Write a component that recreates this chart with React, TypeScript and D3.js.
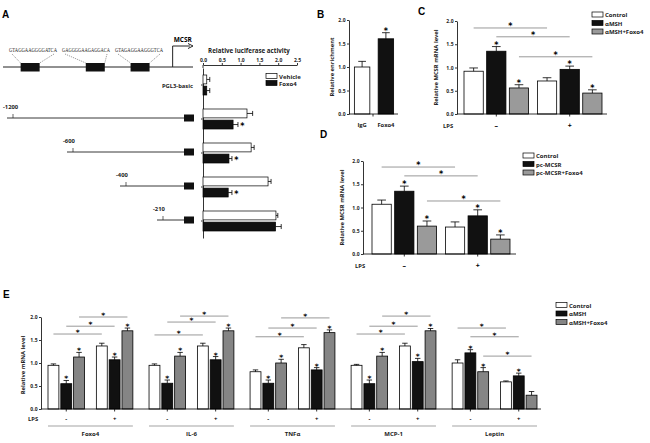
import { useRef, useEffect } from "react";
import * as d3 from "d3";

const W = 650;
const H = 443;
const SANS = "'Open Sans', 'DejaVu Sans', sans-serif";
const SERIF = "'Liberation Serif', serif";

// ---- panel A: luciferase reporter
const constructs = ["PGL3-basic", "-1200", "-600", "-400", "-210"];
const constructStart = [NaN, -1200, -600, -400, -210];
const vehicleVals = [0.1, 1.17, 1.28, 1.73, 1.94];
const vehicleErr = [0.08, 0.15, 0.08, 0.08, 0.05];
const foxoVals = [0.1, 0.8, 0.69, 0.67, 1.93];
const foxoErr = [0.08, 0.13, 0.08, 0.1, 0.15];
const foxoStar = [false, true, true, true, false];
const siteSeqs = ["GTAGGAAGGGGATCA", "GAGGGGAAGAGGACA", "GTAGAGGAAGGGTCA"];
const sitePos = [-1050, -570, -240];
const lucTicks = [0, 0.5, 1, 1.5, 2, 2.5];

// ---- panel B: ChIP
const chipGroups = ["IgG", "Foxo4"];
const chipVals = [1.0, 1.6];
const chipErr = [0.12, 0.13];
const chipStar = [false, true];

// ---- shared
const yTicks = [0, 0.5, 1, 1.5, 2];
const lps = ["-", "+"];

// ---- panel C
const cSeries = ["Control", "αMSH", "αMSH+Foxo4"];
const cVals = [[0.92, 1.35, 0.56], [0.71, 0.96, 0.45]];
const cErr = [[0.07, 0.1, 0.07], [0.07, 0.07, 0.07]];
const cStar = [[false, true, true], [false, true, true]];
const cSig = [1.85, 1.66, 1.23];

// ---- panel D
const dSeries = ["Control", "pc-MCSR", "pc-MCSR+Foxo4"];
const dVals = [[1.07, 1.35, 0.6], [0.58, 0.82, 0.32]];
const dErr = [[0.09, 0.11, 0.11], [0.11, 0.13, 0.09]];
const dStar = [[false, true, true], [false, true, true]];
const dSig = [1.87, 1.68, 1.14];

// ---- panel E  (order: Control-, aMSH-, aMSH+Foxo4-, Control+, aMSH+, aMSH+Foxo4+)
const eGroups = ["Foxo4", "IL-6", "TNFα", "MCP-1", "Leptin"];
const eSeries = ["Control", "αMSH", "αMSH+Foxo4"];
const eVals = [
  [0.95, 0.55, 1.13, 1.37, 1.07, 1.7],
  [0.95, 0.56, 1.15, 1.37, 1.07, 1.7],
  [0.81, 0.56, 1.0, 1.33, 0.85, 1.66],
  [0.95, 0.55, 1.15, 1.37, 1.03, 1.7],
  [1.0, 1.22, 0.81, 0.59, 0.72, 0.3],
];
const eErr = [
  [0.03, 0.07, 0.1, 0.06, 0.06, 0.06],
  [0.03, 0.07, 0.08, 0.06, 0.07, 0.06],
  [0.04, 0.07, 0.08, 0.07, 0.05, 0.06],
  [0.02, 0.08, 0.08, 0.06, 0.07, 0.05],
  [0.07, 0.07, 0.09, 0.02, 0.06, 0.08],
];
const eStar = [
  [false, true, true, false, true, true],
  [false, true, true, false, true, true],
  [false, true, true, false, true, true],
  [false, true, true, false, true, true],
  [false, true, true, false, true, false],
];
const eSig = [
  [1.63, 1.8, 2.0],
  [1.61, 1.89, 2.02],
  [1.57, 1.76, 1.98],
  [1.63, 1.8, 2.02],
  [1.76, 1.57, 1.15],
];

type G = d3.Selection<SVGGElement, unknown, null, undefined>;

function styleAxis(g: G) {
  g.attr("font-family", SANS).attr("font-size", 5).attr("font-weight", 700);
  g.selectAll("path.domain").attr("stroke", "#000").attr("stroke-width", 0.8);
  g.selectAll(".tick line").attr("stroke", "#000").attr("stroke-width", 0.8);
  g.selectAll(".tick text").attr("fill", "#222");
}

function letter(root: G, t: string, x: number, y: number) {
  root.append("text").attr("x", x).attr("y", y).text(t)
    .attr("font-family", "'Liberation Sans', Arial, sans-serif")
    .attr("font-weight", 700).attr("font-size", 10);
}

function yTitle(root: G, t: string, x: number, y: number) {
  root.append("text").attr("transform", `translate(${x},${y}) rotate(-90)`)
    .attr("text-anchor", "middle").attr("font-family", SANS)
    .attr("font-size", 5.8).attr("font-weight", 700).attr("fill", "#222").text(t);
}

// asterisk: y is the level just below the glyph
function star(root: G, x: number, y: number, size = 8) {
  root.append("text").attr("x", x).attr("y", y + size * 0.33).attr("text-anchor", "middle")
    .attr("font-family", "'DejaVu Sans', sans-serif").attr("font-weight", 700).attr("font-size", size).text("*");
}

function errBar(root: G, cx: number, y0: number, y1: number, w: number) {
  root.append("line").attr("x1", cx).attr("x2", cx).attr("y1", y0).attr("y2", y1)
    .attr("stroke", "#000").attr("stroke-width", 0.8);
  root.append("line").attr("x1", cx - w / 2).attr("x2", cx + w / 2).attr("y1", y1).attr("y2", y1)
    .attr("stroke", "#000").attr("stroke-width", 0.8);
}

function legend(root: G, labels: string[], fills: string[], x: number, y: number, dy: number) {
  labels.forEach((l, i) => {
    root.append("rect").attr("x", x).attr("y", y + i * dy).attr("width", 11).attr("height", 5)
      .attr("fill", fills[i]).attr("stroke", "#000").attr("stroke-width", 0.7);
    root.append("text").attr("x", x + 13).attr("y", y + i * dy + 5).text(l)
      .attr("font-family", SANS).attr("font-size", 6).attr("font-weight", 700).attr("fill", "#222");
  });
}

function drawA(root: G) {
  letter(root, "A", 2, 18);

  // promoter map
  const mapX = d3.scaleLinear().domain([-1250, 150]).range([3, 193]);
  const textX = d3.scalePoint<number>().domain(d3.range(siteSeqs.length)).range([33, 139]);
  root.append("line").attr("x1", mapX(-1250)).attr("x2", mapX(150)).attr("y1", 67).attr("y2", 67)
    .attr("stroke", "#222").attr("stroke-width", 1);
  siteSeqs.forEach((s, i) => {
    const bx = mapX(sitePos[i]) - 9.5;
    const tx = textX(i)!;
    root.append("rect").attr("x", bx).attr("y", 63).attr("width", 19).attr("height", 8.5).attr("fill", "#111");
    root.append("text").attr("x", tx - 24).attr("y", 52)
      .attr("textLength", 48).attr("lengthAdjust", "spacingAndGlyphs")
      .attr("font-family", SERIF).attr("font-size", 5.4).attr("fill", "#222").text(s);
    [[tx - 21, bx], [tx + 21, bx + 19]].forEach(([a, b]) => {
      root.append("line").attr("x1", a).attr("y1", 54).attr("x2", b).attr("y2", 63)
        .attr("stroke", "#555").attr("stroke-width", 0.6).attr("stroke-dasharray", "1.2,1");
    });
  });
  const tss = mapX(0);
  root.append("path").attr("d", `M${tss},67V46H190`).attr("fill", "none").attr("stroke", "#222").attr("stroke-width", 1);
  root.append("path").attr("d", `M188,43.5L193,46L188,48.5`).attr("fill", "none").attr("stroke", "#222").attr("stroke-width", 1);
  root.append("text").attr("x", tss + 1).attr("y", 42).text("MCSR")
    .attr("font-family", SANS).attr("font-size", 6.5).attr("font-weight", 700);

  // bar chart
  const x = d3.scaleLinear().domain([0, 2.5]).range([203, 297]);
  const rows = d3.scaleBand().domain(constructs).range([68, 238]);
  const inner = d3.scaleBand().domain(["Vehicle", "Foxo4"]).range([7, 27]).paddingInner(0.2);

  root.append("text").attr("x", 249).attr("y", 53).attr("text-anchor", "middle")
    .attr("font-family", SANS).attr("font-size", 6.2).attr("font-weight", 700).attr("fill", "#222")
    .text("Relative luciferase activity");
  const ax = root.append("g").attr("transform", "translate(0,65)")
    .call(d3.axisTop(x).tickValues(lucTicks).tickFormat(d3.format(".1f")).tickSize(2).tickSizeOuter(0).tickPadding(1.5));
  styleAxis(ax);
  const ay = root.append("g").attr("transform", "translate(203,0)")
    .call(d3.axisLeft(rows).tickFormat(() => "").tickSize(2).tickSizeOuter(0));
  styleAxis(ay);
  root.append("line").attr("x1", 203).attr("x2", 203).attr("y1", 65).attr("y2", 68).attr("stroke", "#000").attr("stroke-width", 0.8);

  const promX = d3.scaleLinear().domain([-1200, -600, -400, -210, 0]).range([7, 67, 120, 157, 184]);

  constructs.forEach((c, i) => {
    const y0 = rows(c)!;
    const bw = inner.bandwidth();
    const series = [
      { k: "Vehicle", v: vehicleVals[i], e: vehicleErr[i], fill: "#fff", s: false },
      { k: "Foxo4", v: foxoVals[i], e: foxoErr[i], fill: "#111", s: foxoStar[i] },
    ];
    series.forEach((d) => {
      const yy = y0 + inner(d.k)!;
      root.append("rect").attr("x", x(0)).attr("y", yy).attr("width", x(d.v) - x(0)).attr("height", bw)
        .attr("fill", d.fill).attr("stroke", "#000").attr("stroke-width", 0.7);
      const cy = yy + bw / 2;
      root.append("line").attr("x1", x(d.v)).attr("x2", x(d.v + d.e)).attr("y1", cy).attr("y2", cy)
        .attr("stroke", "#000").attr("stroke-width", 0.8);
      root.append("line").attr("x1", x(d.v + d.e)).attr("x2", x(d.v + d.e)).attr("y1", cy - 2.5).attr("y2", cy + 2.5)
        .attr("stroke", "#000").attr("stroke-width", 0.8);
      if (d.s) star(root, x(d.v + d.e) + 4.5, cy + 2.2, 8);
    });

    const cy = y0 + rows.bandwidth() / 2;
    if (isNaN(constructStart[i])) {
      root.append("text").attr("x", 193).attr("y", cy + 3).attr("text-anchor", "end")
        .attr("font-family", SANS).attr("font-size", 5.8).attr("font-weight", 700).attr("fill", "#222").text(c);
    } else {
      const ly = cy - 1;
      const sx = promX(constructStart[i]);
      root.append("line").attr("x1", sx).attr("x2", promX(0)).attr("y1", ly).attr("y2", ly)
        .attr("stroke", "#222").attr("stroke-width", 0.9);
      root.append("line").attr("x1", sx + 6).attr("x2", sx + 6).attr("y1", ly - 4).attr("y2", ly)
        .attr("stroke", "#222").attr("stroke-width", 0.7);
      root.append("rect").attr("x", promX(0)).attr("y", ly - 3.5).attr("width", 10).attr("height", 7).attr("fill", "#111");
      root.append("text").attr("x", sx - 4).attr("y", ly - 9.5).text(c)
        .attr("font-family", SANS).attr("font-size", 5.8).attr("font-weight", 700).attr("fill", "#222");
    }
  });

  legend(root, ["Vehicle"], ["#fff"], 266, 73.5, 0);
  legend(root, ["Foxo4"], ["#111"], 266, 80.5, 0);
}

function drawB(root: G) {
  letter(root, "B", 317, 18);
  const x = d3.scaleBand().domain(chipGroups).range([352, 396]).paddingInner(0.35).paddingOuter(0.1);
  const y = d3.scaleLinear().domain([0, 2]).range([114, 20]);
  const fills = ["#fff", "#111"];
  chipGroups.forEach((g, i) => {
    const bx = x(g)!;
    const bw = x.bandwidth();
    root.append("rect").attr("x", bx).attr("y", y(chipVals[i])).attr("width", bw)
      .attr("height", y(0) - y(chipVals[i])).attr("fill", fills[i]).attr("stroke", "#000").attr("stroke-width", 0.8);
    errBar(root, bx + bw / 2, y(chipVals[i]), y(chipVals[i] + chipErr[i]), bw * 0.5);
    if (chipStar[i]) star(root, bx + bw / 2, y(chipVals[i] + chipErr[i]) - 1.5);
    root.append("text").attr("x", bx + bw / 2).attr("y", 127).attr("text-anchor", "middle")
      .attr("font-family", SANS).attr("font-size", 5.8).attr("font-weight", 700).attr("fill", "#222").text(g);
  });
  const ay = root.append("g").attr("transform", "translate(349,0)")
    .call(d3.axisLeft(y).tickValues(yTicks).tickFormat(d3.format(".1f")).tickSize(2).tickSizeOuter(0).tickPadding(1.5));
  styleAxis(ay);
  root.append("line").attr("x1", 349).attr("x2", 398).attr("y1", y(0)).attr("y2", y(0)).attr("stroke", "#000").attr("stroke-width", 0.8);
  root.append("line").attr("x1", 373).attr("x2", 373).attr("y1", y(0)).attr("y2", y(0) + 2.5).attr("stroke", "#000").attr("stroke-width", 0.8);
  yTitle(root, "Relative enrichment", 334, 67);
}

type GroupCfg = {
  axisX: number; axisEnd: number; top: number; bottom: number; range: [number, number];
  series: string[]; fills: string[]; vals: number[][]; errs: number[][]; stars: boolean[][]; sig: number[];
  title: string; titleX: number; lpsX: number; lpsY: number; legX: number; legY: number; legDy: number;
};

function drawGrouped(root: G, c: GroupCfg) {
  const y = d3.scaleLinear().domain([0, 2]).range([c.bottom, c.top]);
  const x0 = d3.scaleBand().domain(lps).range(c.range).paddingInner(0.12);
  const x1 = d3.scaleBand().domain(c.series).range([0, x0.bandwidth()]).paddingInner(0.15);
  const bw = x1.bandwidth();
  const cx = (l: string, s: string) => x0(l)! + x1(s)! + bw / 2;

  lps.forEach((l, li) => {
    c.series.forEach((s, si) => {
      const v = c.vals[li][si];
      const e = c.errs[li][si];
      root.append("rect").attr("x", x0(l)! + x1(s)!).attr("y", y(v)).attr("width", bw)
        .attr("height", y(0) - y(v)).attr("fill", c.fills[si]).attr("stroke", "#000").attr("stroke-width", 0.8);
      errBar(root, cx(l, s), y(v), y(v + e), bw * 0.45);
      if (c.stars[li][si]) star(root, cx(l, s), y(v + e) - 1.5);
    });
    const mx = x0(l)! + x0.bandwidth() / 2;
    root.append("line").attr("x1", mx).attr("x2", mx).attr("y1", y(0)).attr("y2", y(0) + 2.5).attr("stroke", "#000").attr("stroke-width", 0.8);
    root.append("text").attr("x", mx).attr("y", c.lpsY).attr("text-anchor", "middle")
      .attr("font-family", SANS).attr("font-size", 7).attr("font-weight", 700).text(l === "-" ? "–" : "+");
  });

  c.series.forEach((s, si) => {
    const ly = y(c.sig[si]);
    const xa = cx("-", s);
    const xb = cx("+", s);
    root.append("line").attr("x1", xa).attr("x2", xb).attr("y1", ly).attr("y2", ly).attr("stroke", "#999").attr("stroke-width", 1);
    star(root, (xa + xb) / 2, ly - 1.5);
  });

  const ay = root.append("g").attr("transform", `translate(${c.axisX},0)`)
    .call(d3.axisLeft(y).tickValues(yTicks).tickFormat(d3.format(".1f")).tickSize(2).tickSizeOuter(0).tickPadding(1.5));
  styleAxis(ay);
  root.append("line").attr("x1", c.axisX).attr("x2", c.axisEnd).attr("y1", y(0)).attr("y2", y(0)).attr("stroke", "#000").attr("stroke-width", 0.8);
  yTitle(root, c.title, c.titleX, (c.top + c.bottom) / 2);
  root.append("text").attr("x", c.lpsX).attr("y", c.lpsY).text("LPS")
    .attr("font-family", SANS).attr("font-size", 5.8).attr("font-weight", 700).attr("fill", "#222");
  legend(root, c.series, c.fills, c.legX, c.legY, c.legDy);
}

function drawE(root: G) {
  letter(root, "E", 3, 298);
  const y = d3.scaleLinear().domain([0, 2]).range([409, 317]);
  const x0 = d3.scaleBand().domain(eGroups).range([48, 537]).paddingInner(0.16);
  const x1 = d3.scaleBand().domain(lps).range([0, x0.bandwidth()]).paddingInner(0.245);
  const x2 = d3.scaleBand().domain(eSeries).range([0, x1.bandwidth()]).paddingInner(0.15);
  const bw = x2.bandwidth();
  const fills = ["#fff", "#111", "#858585"];

  eGroups.forEach((g, gi) => {
    const cx = (l: string, s: string) => x0(g)! + x1(l)! + x2(s)! + bw / 2;
    lps.forEach((l, li) => {
      eSeries.forEach((s, si) => {
        const k = li * 3 + si;
        const v = eVals[gi][k];
        const e = eErr[gi][k];
        root.append("rect").attr("x", cx(l, s) - bw / 2).attr("y", y(v)).attr("width", bw)
          .attr("height", y(0) - y(v)).attr("fill", fills[si]).attr("stroke", "#000").attr("stroke-width", 0.8);
        errBar(root, cx(l, s), y(v), y(v + e), bw * 0.5);
        if (eStar[gi][k]) star(root, cx(l, s), y(v + e) - 1.5, 7.5);
      });
      const mx = x0(g)! + x1(l)! + x1.bandwidth() / 2;
      root.append("line").attr("x1", mx).attr("x2", mx).attr("y1", y(0)).attr("y2", y(0) + 2.5).attr("stroke", "#000").attr("stroke-width", 0.8);
      root.append("text").attr("x", mx).attr("y", 421).attr("text-anchor", "middle")
        .attr("font-family", SANS).attr("font-size", 6).attr("font-weight", 700).text(l);
    });
    eSeries.forEach((s, si) => {
      const ly = y(eSig[gi][si]);
      const xa = cx("-", s);
      const xb = cx("+", s);
      root.append("line").attr("x1", xa).attr("x2", xb).attr("y1", ly).attr("y2", ly).attr("stroke", "#999").attr("stroke-width", 1);
      star(root, (xa + xb) / 2, ly - 1.5, 7.5);
    });
    root.append("line").attr("x1", x0(g)!).attr("x2", x0(g)! + x0.bandwidth()).attr("y1", 426).attr("y2", 426)
      .attr("stroke", "#999").attr("stroke-width", 0.9);
    root.append("text").attr("x", x0(g)! + x0.bandwidth() / 2).attr("y", 436).attr("text-anchor", "middle")
      .attr("font-family", SANS).attr("font-size", 6).attr("font-weight", 700).attr("fill", "#222").text(g);
  });

  const ay = root.append("g").attr("transform", "translate(41,0)")
    .call(d3.axisLeft(y).tickValues(yTicks).tickFormat(d3.format(".1f")).tickSize(2).tickSizeOuter(0).tickPadding(1.5));
  styleAxis(ay);
  root.append("line").attr("x1", 41).attr("x2", 541).attr("y1", y(0)).attr("y2", y(0)).attr("stroke", "#000").attr("stroke-width", 0.8);
  yTitle(root, "Relative mRNA  level", 25, 365);
  root.append("text").attr("x", 28).attr("y", 421).text("LPS")
    .attr("font-family", SANS).attr("font-size", 5.8).attr("font-weight", 700).attr("fill", "#222");
  legend(root, eSeries, fills, 556, 302.5, 8.5);
}

export default function App() {
  const svgRef = useRef<SVGSVGElement | null>(null);

  useEffect(() => {
    if (!svgRef.current) return;
    const svg = d3.select(svgRef.current);
    svg.selectAll("*").remove();
    svg.append("rect").attr("width", W).attr("height", H).attr("fill", "#fff");
    const root = svg.append("g") as unknown as G;

    drawA(root);
    drawB(root);
    letter(root, "C", 418, 15);
    drawGrouped(root, {
      axisX: 457, axisEnd: 607, top: 21, bottom: 114, range: [464, 602],
      series: cSeries, fills: ["#fff", "#111", "#9a9a9a"], vals: cVals, errs: cErr, stars: cStar, sig: cSig,
      title: "Relative MCSR mRNA level", titleX: 438, lpsX: 443, lpsY: 128, legX: 592, legY: 12, legDy: 8.5,
    });
    letter(root, "D", 320, 138);
    drawGrouped(root, {
      axisX: 363, axisEnd: 516, top: 161, bottom: 254, range: [372, 510],
      series: dSeries, fills: ["#fff", "#111", "#9a9a9a"], vals: dVals, errs: dErr, stars: dStar, sig: dSig,
      title: "Relative MCSR mRNA level", titleX: 344, lpsX: 355, lpsY: 268, legX: 523, legY: 153, legDy: 8.5,
    });
    drawE(root);
  }, []);

  return (
    <svg
      ref={svgRef}
      width={W}
      height={H}
      viewBox={`0 0 ${W} ${H}`}
      style={{ position: "absolute", left: 0, top: 0 }}
    ></svg>
  );
}
